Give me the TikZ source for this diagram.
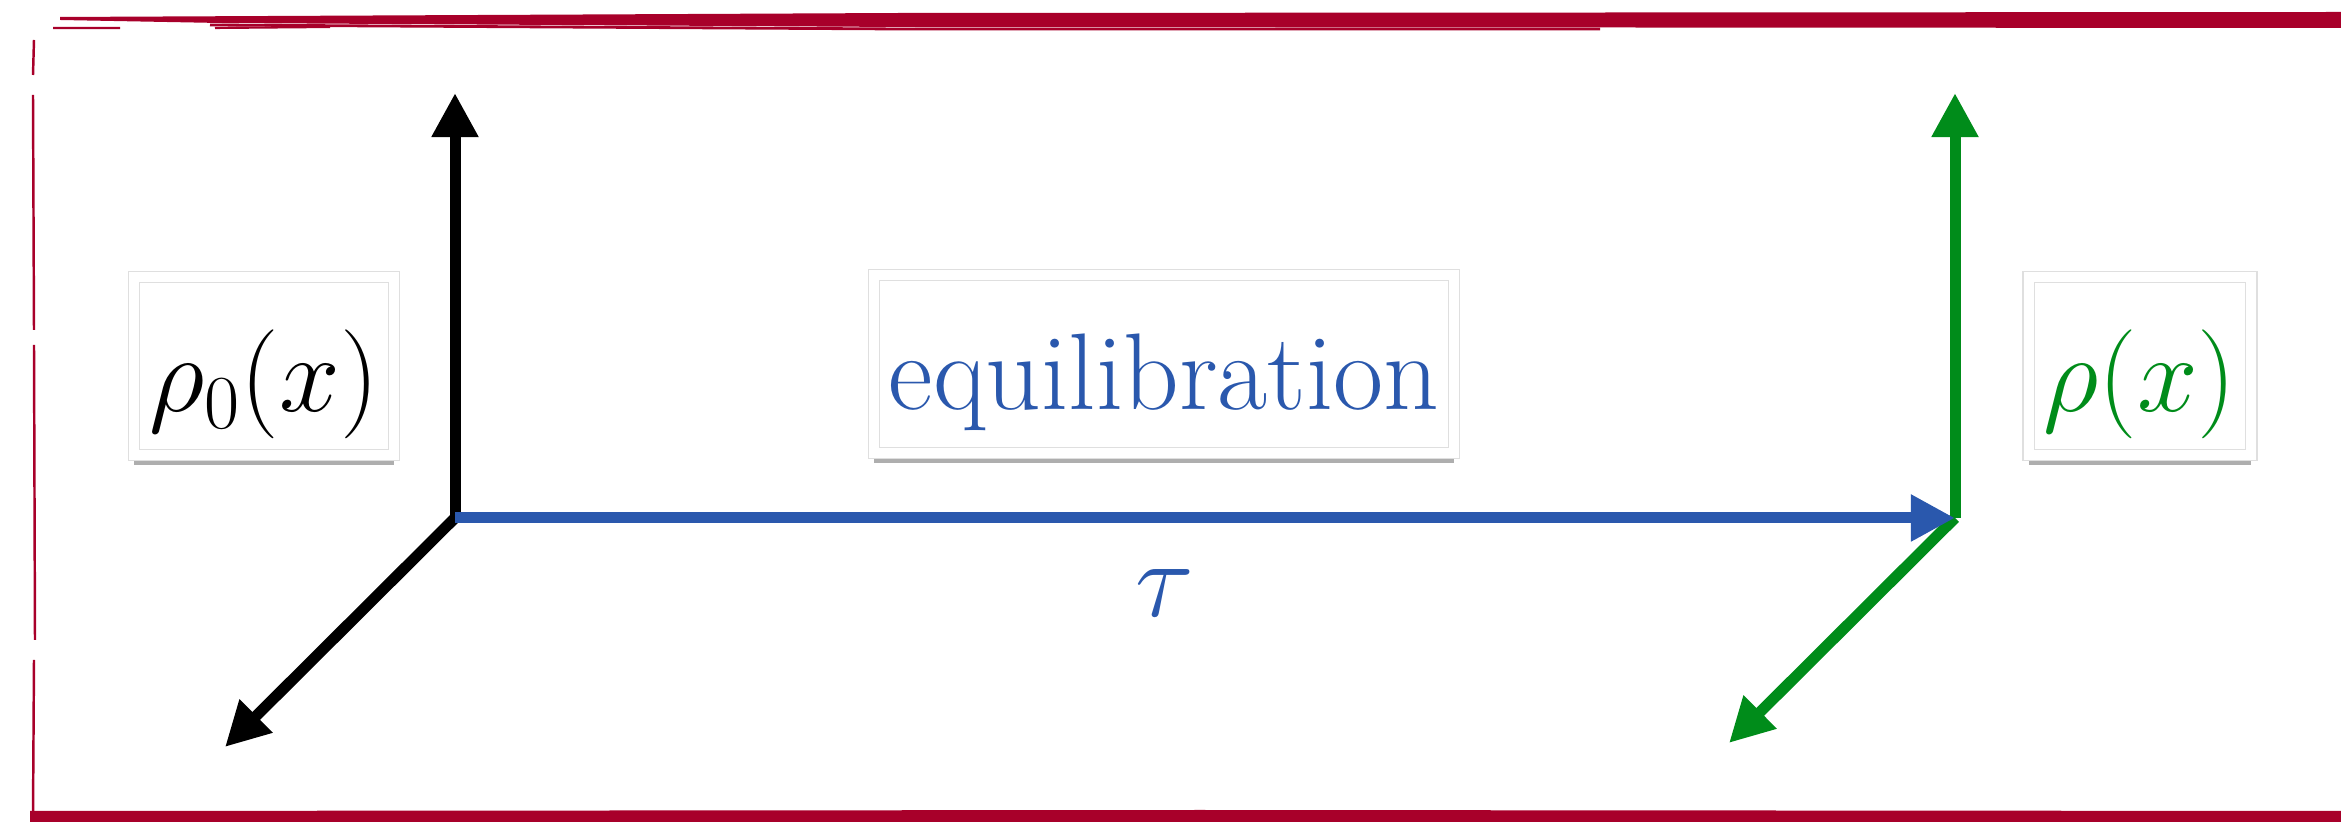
\RequirePackage{fix-cm}
\documentclass[tikz,border=0pt]{standalone}
\usepackage{fontspec}
\usepackage{tikz}
\usetikzlibrary{arrows.meta, shadows}
\definecolor{sketchred}{HTML}{A8002A}
\definecolor{equiblue}{HTML}{2A58AD}
\definecolor{finalgreen}{HTML}{008C1A}

\begin{document}
\begin{tikzpicture}[
    x=0.01cm, y=-0.01cm,
    every node/.style={font=\fontsize{31}{37}\selectfont},
    labelbox/.style={fill=white, draw=gray!25, line width=0.3pt, double=white, double distance=0.1cm,
        inner sep=0.15cm, text height=1.2cm, text depth=0.28cm, anchor=base,
        drop shadow={shadow xshift=0pt, shadow yshift=-0.1cm, opacity=0.45, fill=black!70}},
    axisarrow/.style={line width=0.11cm, -{Triangle[length=0.44cm, width=0.44cm]}}
]
\useasboundingbox (0,0) rectangle (2341,822);

\fill[sketchred] (60,17) -- (900,13) -- (2341,12) -- (2341,28) -- (900,27) -- (220,23) -- (60,20) -- cycle;
\draw[sketchred, line width=0.6pt] (53,28) -- (120,28) (215,28) -- (330,27);
\draw[sketchred, line width=0.8pt] (210,25) -- (900,29) -- (1600,29);
\fill[sketchred] (30,811) -- (1200,810) -- (2341,811) -- (2341,822) -- (30,822) -- cycle;
\draw[sketchred, line width=0.7pt] (34,40) -- (33,75) (33,95) -- (34,330) (34,345) -- (35,640) (34,660) -- (33,815);

\coordinate (startO) at (455,518);
\coordinate (startUp) at (455,93);
\coordinate (startDiag) at (225,747);
\coordinate (endO) at (1955,518);
\coordinate (endUp) at (1955,93);
\coordinate (endDiag) at (1729,743);

\draw[axisarrow, black] (startO) -- (startUp);
\draw[axisarrow, black] (startO) -- (startDiag);
\draw[axisarrow, finalgreen] (endO) -- (endUp);
\draw[axisarrow, finalgreen] (endO) -- (endDiag);
\draw[axisarrow, equiblue] (startO) -- (endO);

\node[text=equiblue, anchor=base] (tau) at (1165,617) {$\tau$};

\node[labelbox] (initial) at (264,412) {$\rho_0(x)$};
\node[labelbox, text=equiblue] (process) at (1164,410) {equilibration};
\node[labelbox, text=finalgreen] (final) at (2140,412) {$\rho(x)$};
\end{tikzpicture}
\end{document}
